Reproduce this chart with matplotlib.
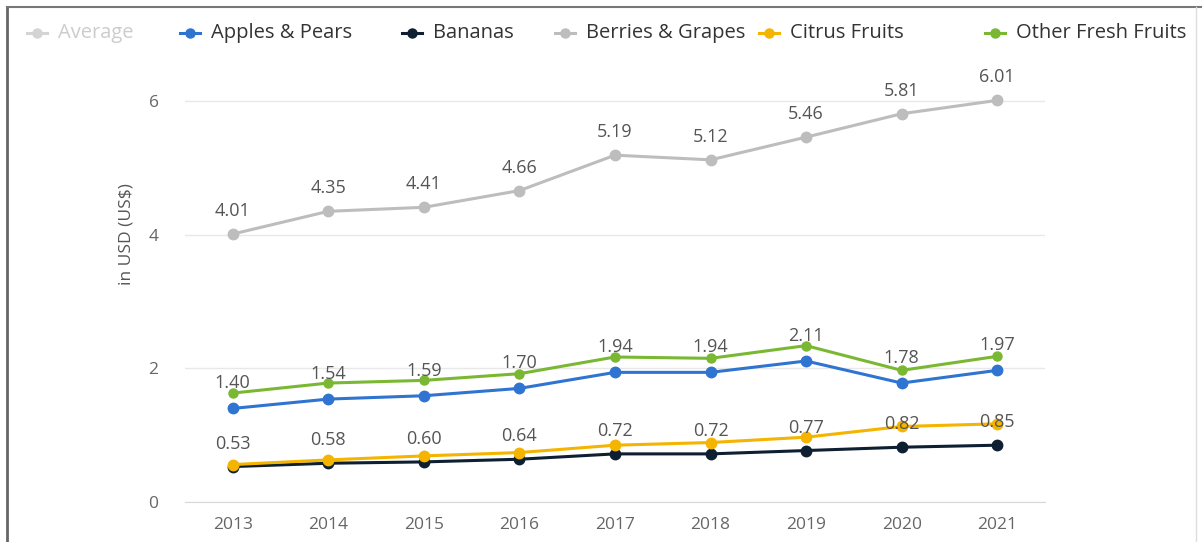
import matplotlib
matplotlib.use("Agg")
import matplotlib.pyplot as plt
from matplotlib.lines import Line2D

plt.rcParams['font.family'] = ['Open Sans', 'DejaVu Sans']

# data
years = [2013, 2014, 2015, 2016, 2017, 2018, 2019, 2020, 2021]
apples_pears = [1.40, 1.54, 1.59, 1.70, 1.94, 1.94, 2.11, 1.78, 1.97]
bananas = [0.53, 0.58, 0.60, 0.64, 0.72, 0.72, 0.77, 0.82, 0.85]
berries_grapes = [4.01, 4.35, 4.41, 4.66, 5.19, 5.12, 5.46, 5.81, 6.01]
citrus = [0.56, 0.63, 0.69, 0.74, 0.85, 0.89, 0.97, 1.13, 1.17]
other_fresh = [1.63, 1.78, 1.82, 1.92, 2.17, 2.15, 2.34, 1.97, 2.18]
yticks = [0, 2, 4, 6]

legend_names = ["Average", "Apples & Pears", "Bananas", "Berries & Grapes",
                "Citrus Fruits", "Other Fresh Fruits"]
legend_colors = ["#d4d4d4", "#2f74d0", "#0d1f30", "#bdbdbd", "#f4b400", "#7ab833"]

fig = plt.figure(figsize=(12.02, 5.42), dpi=100)
ax = fig.add_axes([185 / 1202, 40 / 542, 860 / 1202, 421 / 542])

series = [
    (apples_pears, legend_colors[1], 7.5, 3),
    (bananas, legend_colors[2], 7.5, 2),
    (berries_grapes, legend_colors[3], 7.5, 3),
    (citrus, legend_colors[4], 7.5, 4),
    (other_fresh, legend_colors[5], 6.5, 5),
]
for vals, col, ms, z in series:
    ax.plot(years, vals, color=col, lw=2.2, marker='o', ms=ms, zorder=z,
            solid_joinstyle='round')

# value labels (only three series are labelled)
for vals in (berries_grapes, apples_pears, bananas):
    for x, v in zip(years, vals):
        off = 16.5 if vals is not apples_pears else 18
        ax.annotate(f"{v:.2f}", (x, v), xytext=(0, off), textcoords='offset points',
                    ha='center', va='center', fontsize=13, color='#555555',
                    zorder=6, annotation_clip=False)

ax.set_xlim(2012.5, 2021.5)
ax.set_ylim(0, 6.3)
ax.set_xticks(years)
ax.set_yticks(yticks)
ax.tick_params(axis='both', length=0, labelsize=12.5, labelcolor='#666666')
ax.tick_params(axis='x', pad=11)
ax.tick_params(axis='y', pad=19)
ax.grid(axis='y', color='#e8e8e8', lw=1)
ax.set_axisbelow(True)
for s in ('top', 'right', 'left'):
    ax.spines[s].set_visible(False)
ax.spines['bottom'].set_color('#d8d8d8')
ax.set_ylabel("in USD (US$)", fontsize=12.5, color='#555555', va='center')
ax.yaxis.set_label_coords(-0.0686, 0.637)

# custom horizontal legend along the top
leg_x = [37, 190, 412, 565, 769, 995]
leg_y = 1 - 33 / 542
for name, col, lx in zip(legend_names, legend_colors, leg_x):
    fx = lx / 1202
    fig.add_artist(Line2D([fx - 10 / 1202, fx + 10 / 1202], [leg_y, leg_y],
                          color=col, lw=2.2, transform=fig.transFigure))
    fig.add_artist(Line2D([fx], [leg_y], color=col, marker='o', ms=6.5,
                          transform=fig.transFigure))
    tcol = '#cccccc' if name == "Average" else '#333333'
    fig.text(fx + 21 / 1202, leg_y, name, ha='left', va='center',
             fontsize=14.5, color=tcol)

# screenshot frame
fig.add_artist(Line2D([7 / 1202, 7 / 1202], [0, 1 - 7 / 542], color='#666666', lw=2,
                      transform=fig.transFigure))
fig.add_artist(Line2D([7 / 1202, 1], [1 - 7 / 542, 1 - 7 / 542], color='#777777', lw=1.5,
                      transform=fig.transFigure))
fig.add_artist(Line2D([1196 / 1202, 1196 / 1202], [0, 1 - 7 / 542], color='#dddddd', lw=1,
                      transform=fig.transFigure))

fig.savefig("out.png", dpi=100)
